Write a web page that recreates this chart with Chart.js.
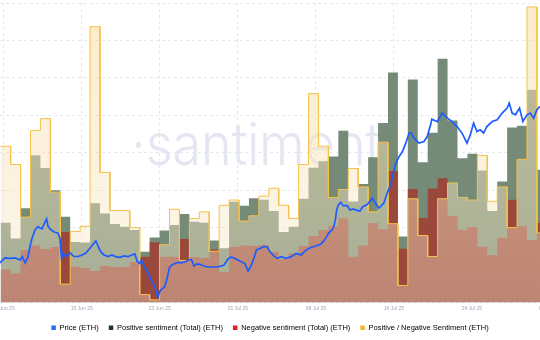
<!DOCTYPE html>
<html>
<head>
<meta charset="utf-8">
<title>Price (ETH) and sentiment</title>
<script src="https://cdn.jsdelivr.net/npm/chart.js@4.4.1/dist/chart.umd.min.js"></script>
<style>
  html, body { margin: 0; padding: 0; background: #fff; }
  #wrap { position: relative; width: 540px; height: 340px; }
</style>
</head>
<body>
<div id="wrap"><canvas id="sentimentChart" width="540" height="340"></canvas></div>
<script>
// daily buckets, first bucket = 07 Jun 2025
const positiveTotal = [80.0, 64.2, 94.5, 147.4, 134.6, 112.5, 86.0, 60.7, 60.2, 99.5,
  89.2, 78.7, 76.0, 72.7, 50.9, 65.0, 72.0, 77.7, 88.7, 81.0,
  80.0, 62.0, 54.3, 100.8, 97.0, 104.5, 102.8, 91.7, 70.7, 76.0,
  103.8, 135.1, 141.4, 146.2, 172.0, 101.1, 118.8, 145.6, 179.7, 230.4,
  66.0, 223.4, 140.6, 170.0, 244.2, 182.3, 144.6, 148.9, 132.2, 91.7,
  121.1, 175.3, 177.0, 213.1, 132.9];

const negativeTotal = [33.1, 29.1, 52.6, 57.0, 53.6, 55.6, 70.7, 35.9, 34.3, 31.6,
  36.6, 35.6, 35.6, 40.6, 45.9, 60.4, 45.9, 45.9, 63.7, 45.6,
  44.6, 53.1, 30.6, 55.6, 57.2, 56.7, 57.7, 50.9, 43.6, 49.3,
  56.7, 66.7, 72.7, 76.7, 84.4, 45.9, 57.2, 79.7, 73.4, 131.6,
  53.9, 113.6, 84.7, 114.1, 124.5, 86.7, 72.7, 75.7, 55.9, 47.6,
  64.7, 102.8, 76.7, 62.7, 80.0];

const posNegRatio = [2.24, 2.10, 1.70, 2.36, 2.45, 1.89, 1.19, 1.59, 1.63, 3.15,
  2.04, 1.75, 1.75, 1.62, 1.11, 1.07, 1.49, 1.76, 1.37, 1.69,
  1.74, 1.44, 1.79, 1.83, 1.67, 1.71, 1.86, 1.92, 1.79, 1.69,
  2.10, 2.64, 2.24, 1.85, 1.91, 2.07, 1.93, 1.74, 2.27, 1.65,
  1.18, 1.84, 1.56, 1.40, 1.84, 1.96, 1.85, 1.83, 2.17, 1.82,
  1.93, 1.62, 2.14, 3.30, 1.58];

// price samples: hours since 07 Jun 2025 00:00, ETH price in USD
const priceHours = [-2, 10, 23, 35, 47, 52, 59, 66, 71, 76, 83, 90, 100, 105, 111, 114, 119, 129, 138, 143,
  147, 150, 158, 168, 177, 187, 197, 206, 216, 226, 230, 235, 242, 250, 259, 269, 279, 288, 298, 308,
  317, 324, 330, 336, 340, 346, 352, 360, 366, 372, 377, 380, 385, 390, 396, 402, 408, 414, 421, 429,
  436, 445, 455, 461, 467, 474, 482, 491, 501, 511, 520, 530, 540, 549, 557, 566, 578, 590, 598, 606,
  612, 618, 627, 636, 644, 651, 660, 668, 678, 690, 702, 714, 726, 738, 750, 762, 774, 781, 789, 793,
  803, 808, 812, 816, 822, 828, 837, 844, 852, 861, 868, 875, 885, 893, 898, 906, 914, 926, 934, 942,
  948, 955, 963, 971, 979, 987, 992, 999, 1011, 1023, 1031, 1039, 1042, 1055, 1067, 1079, 1091, 1103, 1115, 1127,
  1135, 1143, 1151, 1159, 1167, 1175, 1188, 1200, 1212, 1224, 1229, 1236, 1244, 1254, 1262, 1272, 1280, 1288, 1296, 1303];

const priceUsd = [2500, 2544, 2540, 2544, 2526, 2556, 2500, 2553, 2650, 2721, 2792, 2821, 2801, 2845, 2890, 2828, 2801, 2774, 2766, 2721,
  2535, 2588, 2557, 2588, 2557, 2557, 2571, 2588, 2633, 2677, 2695, 2650, 2597, 2571, 2557, 2571, 2553, 2549, 2562, 2557,
  2571, 2580, 2513, 2495, 2526, 2473, 2438, 2376, 2332, 2296, 2234, 2199, 2252, 2270, 2287, 2358, 2460, 2482, 2495, 2504,
  2500, 2509, 2526, 2531, 2473, 2491, 2487, 2473, 2464, 2464, 2464, 2469, 2482, 2535, 2553, 2540, 2518, 2495, 2429, 2482,
  2544, 2615, 2628, 2646, 2642, 2597, 2562, 2541, 2556, 2541, 2556, 2584, 2571, 2615, 2637, 2650, 2668, 2695, 2739, 2766,
  2801, 2863, 2969, 3014, 3036, 3005, 3009, 2969, 2978, 2965, 2960, 2998, 3014, 3049, 3073, 3029, 2984, 3029, 3117, 3191,
  3279, 3383, 3441, 3486, 3560, 3649, 3651, 3604, 3560, 3574, 3618, 3722, 3771, 3751, 3826, 3784, 3751, 3707, 3649, 3560,
  3634, 3737, 3663, 3678, 3649, 3707, 3751, 3766, 3826, 3870, 3914, 3826, 3811, 3870, 3751, 3811, 3826, 3781, 3855, 3884];

// x axis ticks, in days since 07 Jun 2025
const tickDays = [0.3, 8.16, 16.02, 23.88, 31.74, 39.6, 47.46, 55.32];
const tickLabels = ['07 Jun 25', '15 Jun 25', '23 Jun 25', '01 Jul 25', '08 Jul 25', '16 Jul 25', '24 Jul 25', '01 Aug 25'];

const seriesNames = ['Price (ETH)', 'Positive sentiment (Total) (ETH)', 'Negative sentiment (Total) (ETH)', 'Positive / Negative Sentiment (ETH)'];
const legendColors = ['#2b68ff', '#173f24', '#e3221c', '#f2b730'];

// each daily value becomes a flat step covering its whole day
function toSteps(values) {
    const pts = [];
    values.forEach((v, i) => {
        pts.push({ x: i, y: v }, { x: i + 1, y: v });
    });
    return pts;
}

function ratioFill(context) {
    const { ctx, chartArea } = context.chart;
    if (!chartArea) {
        return 'rgba(248, 230, 196, 0.4)';
    }
    const g = ctx.createLinearGradient(0, chartArea.top, 0, chartArea.bottom);
    g.addColorStop(0, 'rgba(249, 222, 166, 0.6)');
    g.addColorStop(1, 'rgba(247, 233, 205, 0.38)');
    return g;
}

const watermark = {
    id: 'watermark',
    beforeDraw(chart) {
        const ctx = chart.ctx;
        ctx.save();
        ctx.font = '300 58px Inter, "Open Sans", sans-serif';
        ctx.fillStyle = '#e4e7f1';
        ctx.textBaseline = 'alphabetic';
        const text = '\u00b7santiment';
        const w = ctx.measureText(text).width;
        ctx.translate(131, 165);
        ctx.scale(250 / w, 1);
        ctx.fillText(text, 0, 0);
        ctx.restore();
    }
};

Chart.defaults.font.family = '"Liberation Sans", Arial, sans-serif';

const priceData = priceHours.map((h, i) => ({ x: h / 24, y: priceUsd[i] }));

new Chart(document.getElementById('sentimentChart'), {
    type: 'line',
    data: {
        datasets: [
            {
                label: seriesNames[0],
                data: priceData,
                yAxisID: 'yPrice',
                borderColor: '#1d5cff',
                borderWidth: 1.7,
                pointRadius: 0,
                fill: false,
                order: 0
            },
            {
                label: seriesNames[1],
                data: toSteps(positiveTotal),
                yAxisID: 'ySent',
                borderColor: 'rgba(0,0,0,0)',
                borderWidth: 0,
                backgroundColor: '#758b77',
                pointRadius: 0,
                fill: 'origin',
                order: 3
            },
            {
                label: seriesNames[2],
                data: toSteps(negativeTotal),
                yAxisID: 'ySent',
                borderColor: 'rgba(0,0,0,0)',
                borderWidth: 0,
                backgroundColor: '#9a473c',
                pointRadius: 0,
                fill: 'origin',
                order: 2
            },
            {
                label: seriesNames[3],
                data: toSteps(posNegRatio),
                yAxisID: 'yRatio',
                borderColor: '#f5c24c',
                borderWidth: 1,
                backgroundColor: ratioFill,
                pointRadius: 0,
                fill: 'origin',
                order: 1
            }
        ]
    },
    options: {
        responsive: false,
        animation: false,
        devicePixelRatio: 1,
        events: [],
        layout: { padding: { top: 3, left: 0, right: 0, bottom: -1.4 } },
        elements: { line: { tension: 0 } },
        plugins: {
            tooltip: { enabled: false },
            legend: {
                position: 'bottom',
                labels: {
                    boxWidth: 4.5,
                    boxHeight: 4.5,
                    padding: 10,
                    color: '#4b5063',
                    font: { size: 7.5 },
                    generateLabels: (chart) => chart.data.datasets.map((ds, i) => ({
                        text: ds.label,
                        fillStyle: legendColors[i],
                        strokeStyle: legendColors[i],
                        lineWidth: 0,
                        hidden: false,
                        datasetIndex: i
                    }))
                }
            }
        },
        scales: {
            x: {
                type: 'linear',
                min: -0.0705,
                max: 54.31,
                afterBuildTicks: (scale) => {
                    scale.ticks = tickDays.map(v => ({ value: v }));
                },
                afterFit: (scale) => {
                    scale.paddingLeft = 0;
                    scale.paddingRight = 0;
                },
                ticks: {
                    autoSkip: false,
                    maxRotation: 0,
                    minRotation: 0,
                    padding: 3.8,
                    color: '#a0a6b4',
                    font: { size: 5, lineHeight: 0.76 },
                    callback: (value, index) => tickLabels[index]
                },
                grid: { color: '#e6e8ef', drawTicks: false },
                border: { display: false, dash: [3, 3] }
            },
            y: {
                type: 'linear',
                min: 0,
                max: 8,
                ticks: { display: false, stepSize: 1 },
                grid: { color: '#e6e8ef', drawTicks: false },
                border: { display: false, dash: [3, 3] }
            },
            yPrice: { type: 'linear', display: false, min: 2150, max: 4800 },
            ySent: { type: 'linear', display: false, min: 0, max: 300 },
            yRatio: { type: 'linear', display: false, min: 1.05, max: 3.33 }
        }
    },
    plugins: [watermark]
});
</script>
</body>
</html>
